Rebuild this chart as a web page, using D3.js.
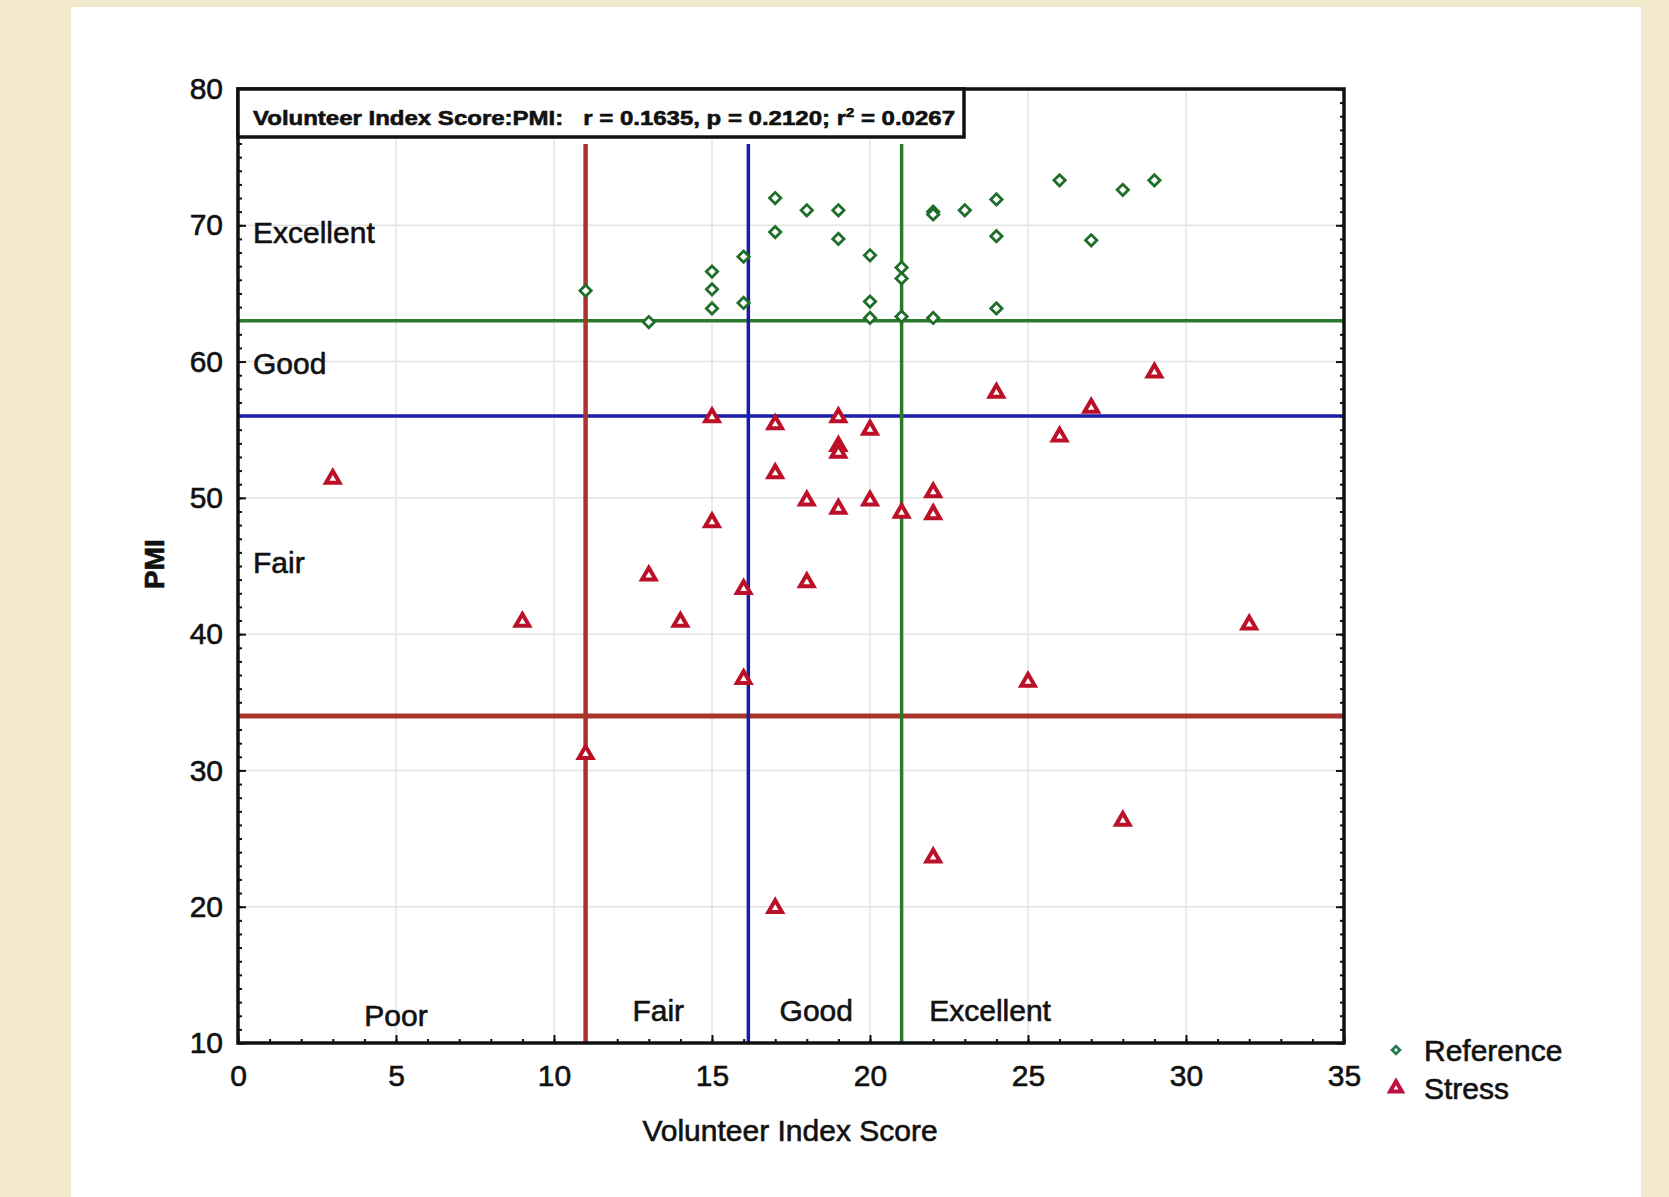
<!DOCTYPE html>
<html>
<head>
<meta charset="utf-8">
<script src="https://cdn.jsdelivr.net/npm/d3@7"></script>
<style>
	body { margin: 0; background: #f2e9cd; }
	/* the scan is blurry, a thin stroke thickens the letters a bit */
	text { font-family: "Liberation Sans", Arial, sans-serif; fill: #111; stroke: #111; stroke-width: 0.6px; }
</style>
</head>
<body>
<svg id="chart"></svg>

<script type="text/javascript">

	// data
	let refX = [11, 13, 15, 15, 15, 16, 16, 17, 17, 18, 19, 19, 20, 20, 20, 21, 21, 21, 22, 22, 22, 23, 24, 24, 24, 26, 27, 28, 29]
	let refY = [65.2, 62.9, 66.6, 65.3, 63.9, 67.7, 64.3, 72.0, 69.5, 71.1, 71.1, 69.0, 67.8, 64.4, 63.2, 66.9, 66.1, 63.3, 71.0, 70.8, 63.2, 71.1, 71.9, 69.2, 63.9, 73.3, 68.9, 72.6, 73.3]

	let stressX = [3, 9, 11, 13, 14, 15, 15, 16, 16, 17, 17, 17, 18, 18, 19, 19, 19, 19, 20, 20, 21, 22, 22, 22, 24, 25, 26, 27, 28, 29, 32]
	let stressY = [51.4, 40.9, 31.2, 44.3, 40.9, 55.9, 48.2, 43.3, 36.7, 55.4, 51.8, 19.9, 49.8, 43.8, 55.9, 53.8, 53.3, 49.2, 55.0, 49.8, 48.9, 50.4, 48.8, 23.6, 57.7, 36.5, 54.5, 56.6, 26.3, 59.2, 40.7]

	// cut-off lines (poor/fair, fair/good, good/excellent)
	let cutX = [11, 16.15, 21]
	let cutY = [34, 56, 63]
	let cutColours = ["#a8352c", "#1c1ca6", "#2a7a2c"]

	let xTicks = [0, 5, 10, 15, 20, 25, 30, 35]
	let yTicks = [10, 20, 30, 40, 50, 60, 70, 80]

	let pmiLabels = ["Excellent", "Good", "Fair"]
	let pmiLabelY = [68.7, 59.1, 44.5]
	let vasLabels = ["Poor", "Fair", "Good", "Excellent"]
	let vasLabelX = [5.0, 13.3, 18.3, 23.8]

	let statText = "Volunteer Index Score:PMI:\u00a0\u00a0\u00a0r = 0.1635, p = 0.2120; r"
	let seriesNames = ["Reference", "Stress"]

	//Size specifications
	let width = 1669
	let height = 1197
	let plotLeft = 238, plotRight = 1344, plotTop = 89, plotBottom = 1043

	let chart = d3.select("#chart")
		.attr("width", width)
		.attr("height", height)

	// white paper on the beige page
	chart.append("rect")
		.attr("x", 71).attr("y", 7)
		.attr("width", 1641 - 71).attr("height", height - 7)
		.attr("fill", "#ffffff")

	let xScale = d3.scaleLinear().domain([0, 35]).range([plotLeft, plotRight])
	let yScale = d3.scaleLinear().domain([10, 80]).range([plotBottom, plotTop])

	// gridlines
	chart.append("g").selectAll("line")
		.data(xTicks.slice(1, -1))
		.enter().append("line")
		.attr("x1", d => xScale(d)).attr("x2", d => xScale(d))
		.attr("y1", plotTop).attr("y2", plotBottom)
		.attr("stroke", "#e3e3e3").attr("stroke-width", 1.5)

	chart.append("g").selectAll("line")
		.data(yTicks.slice(1, -1))
		.enter().append("line")
		.attr("y1", d => yScale(d)).attr("y2", d => yScale(d))
		.attr("x1", plotLeft).attr("x2", plotRight)
		.attr("stroke", "#e3e3e3").attr("stroke-width", 1.5)

	// minor ticks every unit, inside the frame
	let xMinor = chart.append("g")
		.attr("transform", "translate(0," + plotBottom + ")")
		.call(d3.axisBottom(xScale).ticks(35).tickSize(-4).tickFormat(""))
	let yMinor = chart.append("g")
		.attr("transform", "translate(" + plotLeft + ",0)")
		.call(d3.axisLeft(yScale).ticks(70).tickSize(-4).tickFormat(""))
	let yMinorR = chart.append("g")
		.attr("transform", "translate(" + plotRight + ",0)")
		.call(d3.axisRight(yScale).ticks(70).tickSize(-4).tickFormat(""))

	// major ticks + labels
	let xAxisGlyph = chart.append("g")
		.attr("transform", "translate(0," + plotBottom + ")")
		.call(d3.axisBottom(xScale).tickValues(xTicks).tickSize(-8).tickPadding(22))
	let yAxisGlyph = chart.append("g")
		.attr("transform", "translate(" + plotLeft + ",0)")
		.call(d3.axisLeft(yScale).tickValues(yTicks).tickSize(-8).tickPadding(15))
	let yAxisRight = chart.append("g")
		.attr("transform", "translate(" + plotRight + ",0)")
		.call(d3.axisRight(yScale).tickValues(yTicks).tickSize(-8).tickFormat(""))

	chart.selectAll(".domain").remove()
	chart.selectAll(".tick line").attr("stroke", "#111").attr("stroke-width", 2)
	chart.selectAll(".tick text")
		.style("font-size", "30px")
		.attr("fill", "#111")

	// cut-off lines
	chart.append("g").selectAll("line")
		.data(cutY)
		.enter().append("line")
		.attr("x1", plotLeft).attr("x2", plotRight)
		.attr("y1", d => yScale(d)).attr("y2", d => yScale(d))
		.attr("stroke", (d, i) => cutColours[i])
		.attr("stroke-width", (d, i) => i == 0 ? 5 : 3.5)

	chart.append("g").selectAll("line")
		.data(cutX)
		.enter().append("line")
		.attr("x1", d => xScale(d)).attr("x2", d => xScale(d))
		.attr("y1", 144).attr("y2", plotBottom)
		.attr("stroke", (d, i) => cutColours[i])
		.attr("stroke-width", (d, i) => i == 0 ? 4.5 : 3.5)

	// markers - diamond is a square turned 45 degrees
	let diamond = d3.symbol().type(d3.symbolSquare).size(64)
	let triangle = d3.symbol().type(d3.symbolTriangle).size(80)

	chart.append("g").selectAll("path")
		.data(refX)
		.enter().append("path")
		.attr("d", diamond)
		.attr("transform", (d, i) => "translate(" + xScale(d) + "," + yScale(refY[i]) + ") rotate(45)")
		.attr("fill", "#ffffff")
		.attr("stroke", "#1f6e2a")
		.attr("stroke-width", 2.8)

	chart.append("g").selectAll("path")
		.data(stressX)
		.enter().append("path")
		.attr("d", triangle)
		.attr("transform", (d, i) => "translate(" + xScale(d) + "," + yScale(stressY[i]) + ")")
		.attr("fill", "#ffffff")
		.attr("stroke", "#bb1028")
		.attr("stroke-width", 4)

	// frame
	chart.append("rect")
		.attr("x", plotLeft).attr("y", plotTop)
		.attr("width", plotRight - plotLeft).attr("height", plotBottom - plotTop)
		.attr("fill", "none")
		.attr("stroke", "#111")
		.attr("stroke-width", 3.5)

	// stats box
	chart.append("rect")
		.attr("x", plotLeft).attr("y", plotTop)
		.attr("width", 964 - plotLeft).attr("height", 137 - plotTop)
		.attr("fill", "#ffffff")
		.attr("stroke", "#111")
		.attr("stroke-width", 3.5)

	let stat = chart.append("text")
		.attr("x", 253).attr("y", 125)
		.style("font-size", "21px")
		.style("font-weight", "bold")
		.attr("textLength", 702)
		.attr("lengthAdjust", "spacingAndGlyphs")
	stat.append("tspan").text(statText)
	stat.append("tspan").attr("dy", -8).style("font-size", "13px").text("2")
	stat.append("tspan").attr("dy", 8).text(" = 0.0267")

	// region labels
	chart.append("g").selectAll("text")
		.data(pmiLabels)
		.enter().append("text")
		.attr("x", 253)
		.attr("y", (d, i) => yScale(pmiLabelY[i]))
		.style("font-size", "30px")
		.text(d => d)

	chart.append("g").selectAll("text")
		.data(vasLabels)
		.enter().append("text")
		.attr("x", (d, i) => xScale(vasLabelX[i]))
		.attr("y", (d, i) => i == 0 ? 1026 : 1021)
		.attr("text-anchor", "middle")
		.style("font-size", "30px")
		.text(d => d)

	// axis titles
	chart.append("text")
		.attr("x", (plotLeft + plotRight) / 2 - 1).attr("y", 1141)
		.attr("text-anchor", "middle")
		.style("font-size", "30px")
		.text("Volunteer Index Score")

	chart.append("text")
		.attr("transform", "translate(164,564) rotate(-90)")
		.attr("text-anchor", "middle")
		.style("font-size", "28px")
		.style("font-weight", "bold")
		.text("PMI")

	// legend
	let legend = chart.append("g").attr("transform", "translate(1396,1050)")
	legend.selectAll("path")
		.data(seriesNames)
		.enter().append("path")
		.attr("d", (d, i) => i == 0 ? d3.symbol().type(d3.symbolSquare).size(30)() : d3.symbol().type(d3.symbolTriangle).size(60)())
		.attr("transform", (d, i) => "translate(0," + (i * 38) + ")" + (i == 0 ? " rotate(45)" : ""))
		.attr("fill", "#ffffff")
		.attr("stroke", (d, i) => i == 0 ? "#237a4f" : "#c01040")
		.attr("stroke-width", (d, i) => i == 0 ? 2.8 : 4)
	legend.selectAll("text")
		.data(seriesNames)
		.enter().append("text")
		.attr("x", 28)
		.attr("y", (d, i) => i * 38 + 11)
		.style("font-size", "30px")
		.text(d => d)

</script>
</body>
</html>
